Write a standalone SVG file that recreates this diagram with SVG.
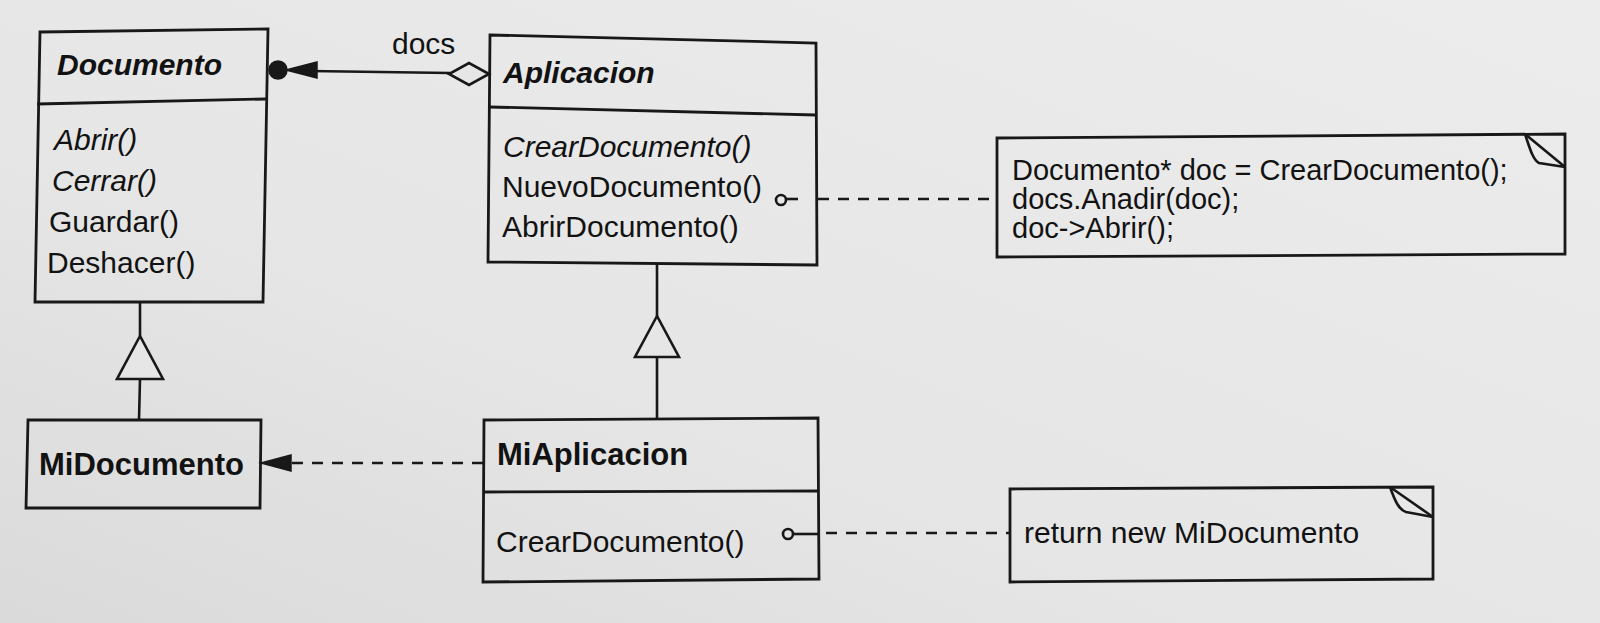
<svg xmlns="http://www.w3.org/2000/svg" width="1600" height="623" viewBox="0 0 1600 623">
  <defs>
    <linearGradient id="paper" x1="1" y1="0" x2="0" y2="1">
      <stop offset="0" stop-color="#ececec"/>
      <stop offset="0.6" stop-color="#e6e6e6"/>
      <stop offset="1" stop-color="#dadada"/>
    </linearGradient>
  </defs>
  <style>
    .box { fill: none; stroke: #181818; stroke-width: 2.8; stroke-linejoin: miter; }
    .ln { fill: none; stroke: #181818; stroke-width: 2.6; }
    .dash { fill: none; stroke: #181818; stroke-width: 2.6; stroke-dasharray: 11 9; }
    .solid { fill: #181818; stroke: #181818; stroke-width: 1.5; }
    .hollow { fill: #e6e6e6; stroke: #181818; stroke-width: 2.6; stroke-linejoin: miter; }
    text { font-family: "Liberation Sans", Arial, Helvetica, sans-serif; font-size: 30px; fill: #121212; }
    .abs { font-weight: bold; font-style: italic; }
    .cls { font-weight: bold; font-size: 31px; }
    .it { font-style: italic; }
    .note { font-size: 29px; }
  </style>
  <rect x="0" y="0" width="1600" height="623" fill="url(#paper)"/>

  <g id="Documento">
    <path class="box" d="M40,32 L268,29 L263,302 L35,302 Z"/>
    <line class="box" x1="37" y1="104" x2="266" y2="99"/>
    <text class="abs" x="57" y="75">Documento</text>
    <text class="it" x="54" y="150">Abrir()</text>
    <text class="it" x="52" y="191">Cerrar()</text>
    <text x="49" y="232">Guardar()</text>
    <text x="47" y="273">Deshacer()</text>
  </g>

  <g id="Aplicacion">
    <path class="box" d="M490,35 L816,43 L817,265 L488,262 Z"/>
    <line class="box" x1="489" y1="107" x2="816" y2="115"/>
    <text class="abs" x="503" y="83">Aplicacion</text>
    <text class="it" x="503" y="157">CrearDocumento()</text>
    <text x="502" y="197">NuevoDocumento()</text>
    <text x="502" y="237">AbrirDocumento()</text>
  </g>

  <g id="MiDocumento">
    <path class="box" d="M28,420 L261,420 L260,508 L26,508 Z"/>
    <text class="cls" x="39" y="475">MiDocumento</text>
  </g>

  <g id="MiAplicacion">
    <path class="box" d="M484,420 L818,418 L819,579 L483,582 Z"/>
    <line class="box" x1="483" y1="492" x2="819" y2="491"/>
    <text class="cls" x="497" y="465">MiAplicacion</text>
    <text x="496" y="552">CrearDocumento()</text>
  </g>

  <g id="nota1">
    <path class="box" d="M997,138 L1565,134 L1565,254 L997,257 Z"/>
    <path class="ln" d="M1525,134 L1565,167"/>
    <path class="ln" d="M1525,134 C1530,149 1533,160 1539,163 L1565,167"/>
    <text class="note" x="1012" y="180">Documento* doc = CrearDocumento();</text>
    <text class="note" x="1012" y="209">docs.Anadir(doc);</text>
    <text class="note" x="1012" y="238">doc-&gt;Abrir();</text>
  </g>

  <g id="nota2">
    <path class="box" d="M1010,489 L1433,487 L1433,579 L1010,582 Z"/>
    <path class="ln" d="M1390,487 L1433,517"/>
    <path class="ln" d="M1390,487 C1395,501 1399,510 1406,512 L1433,517"/>
    <text x="1024" y="543">return new MiDocumento</text>
  </g>

  <g id="connectors">
    <!-- aggregation docs -->
    <line class="ln" x1="450" y1="73" x2="310" y2="71"/>
    <polygon class="hollow" points="489,74 469,63 449,74 469,85"/>
    <polygon class="solid" points="286,70 317,62 317,78"/>
    <circle class="solid" cx="278" cy="70" r="9"/>
    <text x="392" y="54">docs</text>

    <!-- generalization MiDocumento -> Documento -->
    <line class="ln" x1="140" y1="302" x2="140" y2="336"/>
    <line class="ln" x1="140" y1="379" x2="139" y2="420"/>
    <polygon class="hollow" points="140,336 117,379 163,379"/>

    <!-- generalization MiAplicacion -> Aplicacion -->
    <line class="ln" x1="657" y1="264" x2="657" y2="316"/>
    <line class="ln" x1="657" y1="357" x2="657" y2="419"/>
    <polygon class="hollow" points="657,316 635,357 679,357"/>

    <!-- dependency MiAplicacion -> MiDocumento -->
    <line class="dash" x1="483" y1="463" x2="289" y2="463"/>
    <polygon class="solid" points="261,463 291,455 291,471"/>

    <!-- note link NuevoDocumento -->
    <circle class="ln" cx="781" cy="200" r="5" stroke-width="2.2"/>
    <line class="ln" x1="786" y1="199" x2="798" y2="199"/>
    <line class="dash" x1="818" y1="199" x2="997" y2="199"/>

    <!-- note link CrearDocumento -->
    <circle class="ln" cx="788" cy="534" r="5" stroke-width="2.2"/>
    <line class="ln" x1="793" y1="534" x2="819" y2="534"/>
    <line class="dash" x1="826" y1="533" x2="1010" y2="533"/>
  </g>
</svg>
